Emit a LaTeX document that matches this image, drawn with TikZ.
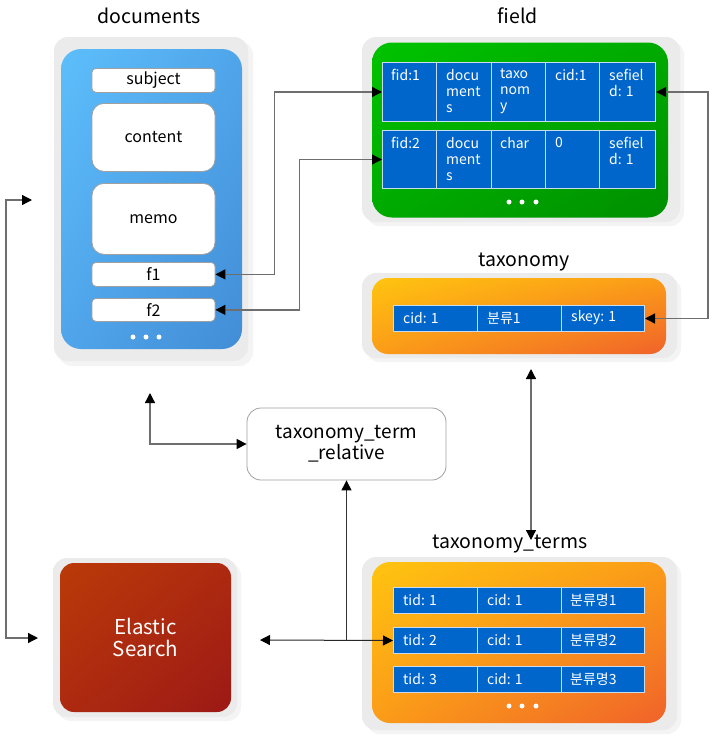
\documentclass[tikz,border=0pt]{standalone}
\usepackage{fontspec}
\setmainfont{Noto Sans CJK KR}
\usetikzlibrary{arrows.meta,calc,shadings}
\definecolor{panelgray}{HTML}{EBEBEB}
\definecolor{shadowgray}{HTML}{F4F4F4}
\definecolor{blueA}{HTML}{5DBEFB}
\definecolor{blueM}{HTML}{50A5EA}
\definecolor{blueB}{HTML}{428DD6}
\definecolor{greenA}{HTML}{00C300}
\definecolor{greenM}{HTML}{00AA00}
\definecolor{greenB}{HTML}{008F00}
\definecolor{orA}{HTML}{FFC410}
\definecolor{orM}{HTML}{FB9C18}
\definecolor{orB}{HTML}{F0622A}
\definecolor{redA}{HTML}{BA3A08}
\definecolor{redM}{HTML}{AD2A10}
\definecolor{redB}{HTML}{9C1916}
\definecolor{cellblue}{HTML}{0066CC}
\definecolor{cellline}{HTML}{C8DCF0}
\definecolor{linegray}{HTML}{6E6E6E}
\definecolor{boxline}{HTML}{A0A0A0}
\tikzset{
  panel/.style={fill=panelgray, rounded corners=14},
  shadowp/.style={fill=shadowgray, rounded corners=14},
  title/.style={inner sep=0, font=\fontsize{19.5}{22}\selectfont},
  wbox/.style={fill=white, draw=boxline, line width=0.8, rounded corners=4, minimum width=123, inner sep=0, font=\fontsize{16}{18}\selectfont},
  cellrow/.style={fill=cellblue, draw=cellline, line width=1, anchor=north west, inner sep=0},
  celltxt/.style={anchor=north west, inner sep=0, align=left, text=white, font=\fontsize{14}{16}\selectfont},
  rowtxt/.style={anchor=west, inner sep=0, text=white, font=\fontsize{14}{16}\selectfont},
  dot/.style={circle, fill=white, inner sep=0, minimum size=5},
  conn/.style={draw=linegray, line width=1.3, {Triangle[length=10pt,width=10pt,black]}-{Triangle[length=10pt,width=10pt,black]}},
  oneway/.style={draw=black!80, line width=1, -{Triangle[length=10pt,width=10pt,black]}},
}
\begin{document}
\begin{tikzpicture}[x=1pt,y=-1pt]
\useasboundingbox (0,0) rectangle (712,740);
\fill[white] (0,0) rectangle (712,740);

% ---------- documents ----------
\node[title] (tdoc) at (149,16) {documents};
\fill[shadowp] (58,41) rectangle (253,366);
\fill[panel] (54,37) rectangle (248,361);
\node[rounded corners=20, minimum width=181, minimum height=300, inner sep=0,
  upper left=blueA, upper right=blueM, lower left=blueM, lower right=blueB] (doc) at (151.5,199) {};
\node[wbox, minimum height=24, anchor=north] (dsub) at (153.5,68) {subject};
\node[wbox, minimum height=68, rounded corners=12, anchor=north] (dcon) at (153.5,103) {content};
\node[wbox, minimum height=71, rounded corners=12, anchor=north] (dmemo) at (153.5,183) {memo};
\node[wbox, minimum height=24, anchor=north] (df1) at (153.5,262) {f1};
\node[wbox, minimum height=23, anchor=north] (df2) at (153.5,298) {f2};
\node[dot] (dd1) at (133,337) {};
\node[dot] (dd2) at (146,337) {};
\node[dot] (dd3) at (159,337) {};

% ---------- field ----------
\node[title] (tfield) at (518,16) {field};
\fill[shadowp] (366,41) rectangle (684,226);
\fill[panel] (362,37) rectangle (680,222);
\node[rounded corners=20, minimum width=296, minimum height=175, inner sep=0,
  upper left=greenA, upper right=greenM, lower left=greenM, lower right=greenB] (field) at (520,130) {};
\node[cellrow, minimum width=273, minimum height=59] (fr1) at (382,62) {};
\node[cellrow, minimum width=273, minimum height=58] (fr2) at (382,130) {};
\foreach \cx in {436.7,491,545.3,599.7}{
  \draw[cellline, line width=1] (\cx,62) -- (\cx,121);
  \draw[cellline, line width=1] (\cx,130) -- (\cx,188);
}
\node[celltxt] (c11) at (391,69) {fid:1};
\node[celltxt] (c12) at (446,69) {docu\\ment\\s};
\node[celltxt] (c13) at (500,69) {taxo\\nom\\y};
\node[celltxt] (c14) at (555,69) {cid:1};
\node[celltxt] (c15) at (609,69) {sefiel\\d: 1};
\node[celltxt] (c21) at (391,137) {fid:2};
\node[celltxt] (c22) at (446,137) {docu\\ment\\s};
\node[celltxt] (c23) at (500,137) {char};
\node[celltxt] (c24) at (555,137) {0};
\node[celltxt] (c25) at (609,137) {sefiel\\d: 1};
\node[dot] (fd1) at (509,202) {};
\node[dot] (fd2) at (522,202) {};
\node[dot] (fd3) at (536,202) {};

% ---------- taxonomy ----------
\node[title] (ttax) at (524,262) {taxonomy};
\fill[shadowp] (366,277) rectangle (681,362);
\fill[panel] (362,273) rectangle (677,358);
\node[rounded corners=16, minimum width=294, minimum height=76, inner sep=0,
  upper left=orA, upper right=orM, lower left=orM, lower right=orB] (tax) at (519,316) {};
\node[cellrow, minimum width=251, minimum height=26] (tr) at (393,305) {};
\draw[cellline, line width=1] (477,305) -- (477,331) (561,305) -- (561,331);
\node[rowtxt] (t1) at (403,318) {cid: 1};
\node[rowtxt] (t2) at (487,318) {분류1};
\node[rowtxt] (t3) at (571,318) {skey: 1};

% ---------- taxonomy_terms ----------
\node[title] (tterms) at (510,544) {taxonomy\_terms};
\fill[shadowp] (366,561) rectangle (681,734);
\fill[panel] (362,557) rectangle (677,730);
\node[rounded corners=18, minimum width=294, minimum height=161, inner sep=0,
  upper left=orA, upper right=orM, lower left=orM, lower right=orB] (terms) at (519,642.5) {};
\node[cellrow, minimum width=251, minimum height=26] (tt1) at (393,587) {};
\node[cellrow, minimum width=251, minimum height=26] (tt2) at (393,627) {};
\node[cellrow, minimum width=251, minimum height=26] (tt3) at (393,666) {};
\foreach \ry in {587,627,666}{
  \draw[cellline, line width=1] (477,\ry) -- (477,\ry+26) (561,\ry) -- (561,\ry+26);
}
\node[rowtxt] (s11) at (403,600) {tid: 1};
\node[rowtxt] (s12) at (487,600) {cid: 1};
\node[rowtxt] (s13) at (570,600) {분류명1};
\node[rowtxt] (s21) at (403,640) {tid: 2};
\node[rowtxt] (s22) at (487,640) {cid: 1};
\node[rowtxt] (s23) at (570,640) {분류명2};
\node[rowtxt] (s31) at (403,679) {tid: 3};
\node[rowtxt] (s32) at (487,679) {cid: 1};
\node[rowtxt] (s33) at (570,679) {분류명3};
\node[dot] (td1) at (509,706) {};
\node[dot] (td2) at (522,706) {};
\node[dot] (td3) at (536,706) {};

% ---------- Elastic Search ----------
\fill[shadowp] (57,562) rectangle (241,721);
\fill[panel] (53,558) rectangle (237,717);
\node[rounded corners=14, minimum width=171, minimum height=149, inner sep=0,
  upper left=redA, upper right=redM, lower left=redM, lower right=redB,
  text=white, align=center, font=\fontsize{20.5}{22}\selectfont] (es) at (145.5,637.5) {Elastic\\Search};

% ---------- taxonomy_term_relative ----------
\node[fill=white, draw=boxline, line width=0.8, rounded corners=14, minimum width=199, minimum height=72,
  inner sep=0, align=center, font=\fontsize{19}{21}\selectfont] (rel) at (346.5,444) {taxonomy\_term\\\_relative};

% ---------- connectors ----------
\draw[conn] (df1.east) -- ++(59,0) |- (fr1.west);
\draw[conn] (df2.east) -- ++(84,0) |- (fr2.west);
\draw[conn] (fr1.east) -- ++(52,0) |- (tr.east);

\coordinate (L1) at (32,200);
\coordinate (L2) at (38,638);
\draw[conn] (L1) -- ++(-26,0) |- (L2);

\coordinate (D1) at (150,393);
\draw[conn] (D1) |- (rel.west);

\coordinate (E1) at (260,640);
\draw[conn, draw=black!85, line width=1] (E1) -- (tt2.west);
\coordinate (J) at (rel.south |- tt2.west);
\draw[oneway] (J) -- (rel.south);

\coordinate (T1) at (531,369);
\coordinate (T2) at (531,540);
\draw[conn] (T1) -- (T2);
\end{tikzpicture}
\end{document}
